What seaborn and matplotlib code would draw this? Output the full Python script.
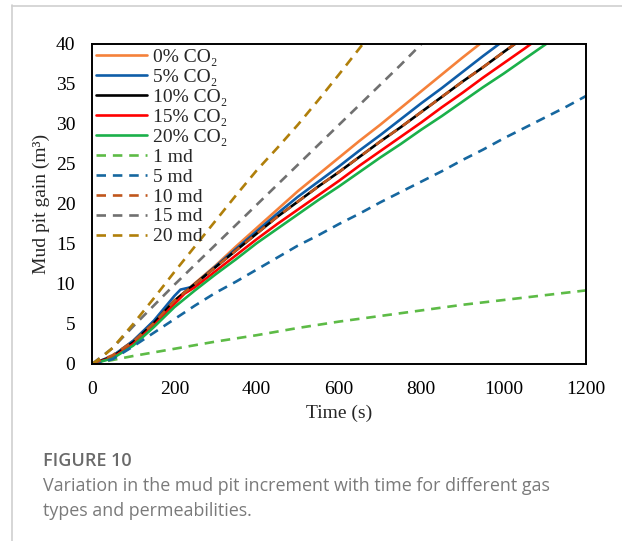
import matplotlib
matplotlib.use("Agg")
import matplotlib.pyplot as plt
import seaborn as sns
import pandas as pd
from matplotlib.lines import Line2D

# ---------------- data ----------------
t_co2_0 = [0, 50, 100, 150, 200, 250, 300, 350, 400, 450, 500, 550, 600, 650, 700, 750, 800, 850, 900, 942]
y_co2_0 = [0, 1.0, 2.9, 5.3, 7.9, 10.1, 12.3, 14.7, 17.0, 19.3, 21.6, 23.7, 25.8, 27.9, 29.9, 32.0, 34.1, 36.2, 38.3, 40.0]

t_co2_5 = [0, 50, 100, 150, 200, 215, 240, 250, 300, 350, 400, 450, 500, 550, 600, 650, 700, 750, 800, 850, 900, 950, 989]
y_co2_5 = [0, 1.0, 2.9, 5.4, 8.5, 9.3, 9.6, 10.0, 12.2, 14.4, 16.6, 18.8, 20.9, 22.8, 24.7, 26.7, 28.6, 30.6, 32.6, 34.5, 36.5, 38.5, 40.0]

t_co2_10 = [0, 50, 100, 150, 200, 250, 300, 350, 400, 450, 500, 550, 600, 650, 700, 750, 800, 850, 900, 950, 1000, 1027]
y_co2_10 = [0, 0.9, 2.7, 5.1, 7.9, 10.0, 12.1, 14.2, 16.3, 18.4, 20.3, 22.2, 24.0, 25.9, 27.8, 29.6, 31.5, 33.4, 35.3, 37.1, 39.0, 40.0]

t_co2_15 = [0, 50, 100, 150, 200, 225, 250, 300, 350, 400, 450, 500, 550, 600, 650, 700, 750, 800, 850, 900, 950, 1000, 1050, 1066]
y_co2_15 = [0, 0.8, 2.5, 4.8, 7.5, 8.8, 9.6, 11.6, 13.6, 15.6, 17.5, 19.3, 21.1, 22.9, 24.8, 26.6, 28.4, 30.2, 32.1, 33.9, 35.8, 37.6, 39.4, 40.0]

t_co2_20 = [0, 50, 100, 150, 200, 250, 300, 350, 400, 450, 500, 550, 600, 650, 700, 750, 800, 850, 900, 950, 1000, 1050, 1103]
y_co2_20 = [0, 0.7, 2.3, 4.6, 7.1, 9.2, 11.2, 13.1, 15.1, 16.9, 18.7, 20.5, 22.2, 24.0, 25.8, 27.5, 29.3, 31.0, 32.8, 34.6, 36.3, 38.1, 40.0]

t_k1 = [0, 50, 100, 200, 300, 400, 500, 600, 700, 800, 900, 1000, 1100, 1200]
y_k1 = [0, 0.5, 1.0, 1.9, 2.8, 3.6, 4.5, 5.3, 6.0, 6.7, 7.4, 8.0, 8.6, 9.2]

t_k5 = [0, 50, 100, 150, 200, 250, 300, 350, 400, 450, 500, 550, 600, 650, 700, 750, 800, 850, 900, 950, 1000, 1050, 1100, 1150, 1200]
y_k5 = [0, 0.6, 2.2, 3.9, 5.6, 7.3, 8.9, 10.3, 11.8, 13.3, 14.8, 16.1, 17.5, 18.8, 20.2, 21.5, 22.8, 24.1, 25.5, 26.8, 28.2, 29.5, 30.8, 32.1, 33.5]

t_k10 = [0, 50, 100, 150, 200, 250, 300, 350, 400, 450, 500, 550, 600, 650, 700, 750, 800, 850, 900, 950, 1000, 1027]
y_k10 = [0, 1.1, 2.8, 5.1, 7.9, 10.0, 12.1, 14.2, 16.3, 18.4, 20.3, 22.2, 24.0, 25.9, 27.8, 29.6, 31.5, 33.4, 35.3, 37.1, 39.0, 40.0]

t_k15 = [0, 50, 100, 150, 200, 250, 300, 350, 400, 450, 500, 550, 600, 650, 700, 750, 800]
y_k15 = [0, 2.0, 4.7, 7.3, 9.9, 12.4, 14.9, 17.4, 19.9, 22.4, 24.9, 27.4, 29.9, 32.4, 34.9, 37.4, 40.0]

t_k20 = [0, 25, 50, 100, 150, 200, 250, 300, 350, 400, 450, 500, 550, 600, 658]
y_k20 = [0, 0.9, 2.0, 5.0, 8.2, 11.5, 14.7, 17.9, 21.1, 24.2, 27.0, 29.9, 33.0, 36.2, 40.0]

labels = ["0% CO₂", "5% CO₂", "10% CO₂", "15% CO₂", "20% CO₂",
          "1 md", "5 md", "10 md", "15 md", "20 md"]
colors = ["#F5813A", "#0F5DA8", "#000000", "#FF0000", "#1BB04A",
          "#5DBB46", "#16679F", "#C0561C", "#707070", "#B07F0A"]
x_ticks = [0, 200, 400, 600, 800, 1000, 1200]
y_ticks = [0, 5, 10, 15, 20, 25, 30, 35, 40]

series = [(t_co2_0, y_co2_0), (t_co2_5, y_co2_5), (t_co2_10, y_co2_10),
          (t_co2_15, y_co2_15), (t_co2_20, y_co2_20),
          (t_k1, y_k1), (t_k5, y_k5), (t_k10, y_k10), (t_k15, y_k15), (t_k20, y_k20)]

# ---------------- style ----------------
sns.set_style("white")
plt.rcParams['font.family'] = ['Liberation Serif', 'DejaVu Serif']

fig = plt.figure(figsize=(6.22, 5.41), dpi=100)
ax = fig.add_axes([92/622, 1-364/541, (586-92)/622, (364-44)/541])

for i, ((tx, ty), lab, col) in enumerate(zip(series, labels, colors)):
    df = pd.DataFrame({"t": tx, "y": ty})
    dashed = i >= 5
    sns.lineplot(data=df, x="t", y="y", ax=ax, color=col, label=lab,
                 linewidth=1.9, estimator=None, sort=False,
                 linestyle="--" if dashed else "-")
    if dashed:
        ax.lines[-1].set_dashes((3.6, 2.6))

ax.set_xlim(0, 1200)
ax.set_ylim(0, 40)
ax.set_xticks(x_ticks)
ax.set_yticks(y_ticks)
ax.tick_params(direction="in", length=6, width=1.2, labelsize=14, colors="black")
ax.tick_params(axis="y", pad=12)
ax.tick_params(axis="x", pad=12)
for s in ax.spines.values():
    s.set_color("black")
    s.set_linewidth(1.4)
ax.set_xlabel("Time (s)", fontsize=14, labelpad=5)
ax.set_ylabel("Mud pit gain (m³)", fontsize=14, labelpad=4)

leg = ax.legend(loc="upper left", frameon=False, fontsize=14, handlelength=2.6,
                handletextpad=0.3, labelspacing=0.12, borderaxespad=0.1,
                borderpad=0.12)

# frame lines around figure panel
fig.add_artist(Line2D([12/622, 12/622], [0, 1-5/541], transform=fig.transFigure,
                      color="#cfcfcf", linewidth=1.2))
fig.add_artist(Line2D([12/622, 1], [1-5.5/541, 1-5.5/541], transform=fig.transFigure,
                      color="#cfcfcf", linewidth=1.2))

fig.text(43/622, 1-461/541, "FIGURE 10", fontsize=13, color="#6a6a6a",
         family=["Open Sans", "DejaVu Sans"], weight="semibold", va="center")
fig.text(43/622, 1-486/541, "Variation in the mud pit increment with time for different gas",
         fontsize=12.9, color="#7a7a7a", family=["Open Sans", "DejaVu Sans"], va="center")
fig.text(43/622, 1-511/541, "types and permeabilities.",
         fontsize=12.9, color="#7a7a7a", family=["Open Sans", "DejaVu Sans"], va="center")

fig.savefig("out.png", dpi=100)
